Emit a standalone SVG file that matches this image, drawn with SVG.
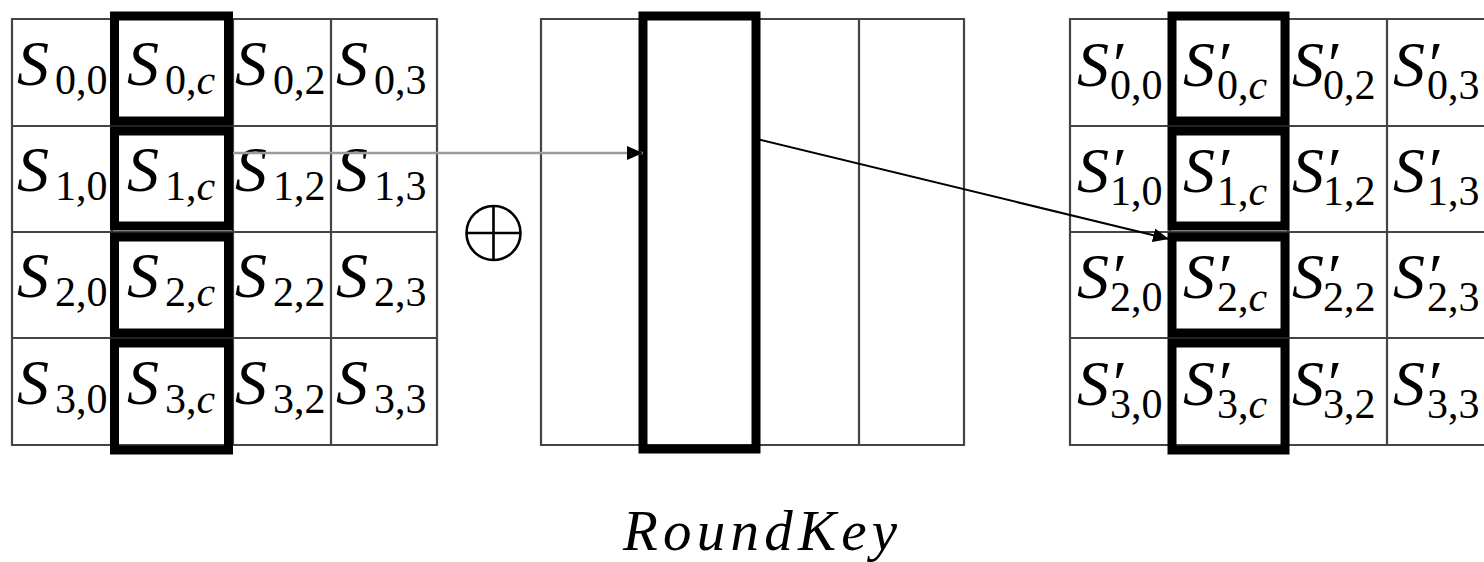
<svg xmlns="http://www.w3.org/2000/svg" width="1484" height="562" viewBox="0 0 1484 562">
<style>
.grid{fill:none;stroke:#444;stroke-width:2.2}
.bold{fill:none;stroke:#000;stroke-width:9}
.m{font-family:"Liberation Serif",serif;font-size:64px;font-style:italic;fill:#000}
.sub{font-size:42px;font-style:normal}
.it{font-style:italic}
.lbl{font-family:"Liberation Serif",serif;font-size:57px;font-style:italic;fill:#000}
.op{fill:none;stroke:#000;stroke-width:2.6}
</style>
<defs>
<marker id="ah" markerUnits="userSpaceOnUse" markerWidth="18" markerHeight="16" refX="16" refY="8" orient="auto">
<path d="M0,1 L16,8 L0,15 Z" fill="#000"/>
</marker>
</defs>
<rect width="1484" height="562" fill="#fff"/>

<g id="state">
<path class="grid" d="M12,19H437V445H12Z M112,19V445 M233,19V445 M331,19V445 M12,126H437 M12,232H437 M12,338H437"/>
<g id="s0"><text class="m" x="17" y="85">S<tspan class="sub" x="55" y="94">0,0</tspan></text>
<text class="m" x="127" y="85">S<tspan class="sub" x="165" y="94">0,<tspan class="it">c</tspan></tspan></text>
<text class="m" x="235" y="85">S<tspan class="sub" x="273" y="94">0,2</tspan></text>
<text class="m" x="336" y="85">S<tspan class="sub" x="374" y="94">0,3</tspan></text></g>
<g id="s1"><text class="m" x="17" y="191">S<tspan class="sub" x="55" y="200">1,0</tspan></text>
<text class="m" x="127" y="191">S<tspan class="sub" x="165" y="200">1,<tspan class="it">c</tspan></tspan></text>
<text class="m" x="235" y="191">S<tspan class="sub" x="273" y="200">1,2</tspan></text>
<text class="m" x="336" y="191">S<tspan class="sub" x="374" y="200">1,3</tspan></text></g>
<g id="s2"><text class="m" x="17" y="297">S<tspan class="sub" x="55" y="306">2,0</tspan></text>
<text class="m" x="127" y="297">S<tspan class="sub" x="165" y="306">2,<tspan class="it">c</tspan></tspan></text>
<text class="m" x="235" y="297">S<tspan class="sub" x="273" y="306">2,2</tspan></text>
<text class="m" x="336" y="297">S<tspan class="sub" x="374" y="306">2,3</tspan></text></g>
<g id="s3"><text class="m" x="17" y="404">S<tspan class="sub" x="55" y="413">3,0</tspan></text>
<text class="m" x="127" y="404">S<tspan class="sub" x="165" y="413">3,<tspan class="it">c</tspan></tspan></text>
<text class="m" x="235" y="404">S<tspan class="sub" x="273" y="413">3,2</tspan></text>
<text class="m" x="336" y="404">S<tspan class="sub" x="374" y="413">3,3</tspan></text></g>
<g id="state-col">
<rect class="bold" x="114.5" y="16" width="114" height="105"/>
<rect class="bold" x="114.5" y="131" width="114" height="95"/>
<rect class="bold" x="114.5" y="237" width="114" height="96"/>
<rect class="bold" x="114.5" y="343" width="114" height="107"/>
</g>
</g>

<g id="xor">
<circle class="op" cx="493.5" cy="233" r="27"/>
<path class="op" d="M493.5,206V260 M466.5,233H520.5"/>
</g>

<g id="roundkey">
<path class="grid" d="M541,19H964V445H541Z M859,19V445"/>
<rect class="bold" x="643" y="16" width="113" height="433"/>
<text class="lbl" x="623" y="550" textLength="274" lengthAdjust="spacing">RoundKey</text>
</g>

<g id="newstate">
<path class="grid" d="M1500,19H1070V445H1500 M1170,19V445 M1288,19V445 M1387,19V445 M1070,126H1500 M1070,232H1500 M1070,338H1500"/>
<g id="t0"><text class="m" x="1077" y="86">S′<tspan class="sub" x="1110" y="99">0,0</tspan></text>
<text class="m" x="1183" y="86">S′<tspan class="sub" x="1217" y="99">0,<tspan class="it">c</tspan></tspan></text>
<text class="m" x="1292" y="86">S′<tspan class="sub" x="1323" y="99">0,2</tspan></text>
<text class="m" x="1393" y="86">S′<tspan class="sub" x="1427" y="99">0,3</tspan></text></g>
<g id="t1"><text class="m" x="1077" y="192">S′<tspan class="sub" x="1110" y="205">1,0</tspan></text>
<text class="m" x="1183" y="192">S′<tspan class="sub" x="1217" y="205">1,<tspan class="it">c</tspan></tspan></text>
<text class="m" x="1292" y="192">S′<tspan class="sub" x="1323" y="205">1,2</tspan></text>
<text class="m" x="1393" y="192">S′<tspan class="sub" x="1427" y="205">1,3</tspan></text></g>
<g id="t2"><text class="m" x="1077" y="298">S′<tspan class="sub" x="1110" y="311">2,0</tspan></text>
<text class="m" x="1183" y="298">S′<tspan class="sub" x="1217" y="311">2,<tspan class="it">c</tspan></tspan></text>
<text class="m" x="1292" y="298">S′<tspan class="sub" x="1323" y="311">2,2</tspan></text>
<text class="m" x="1393" y="298">S′<tspan class="sub" x="1427" y="311">2,3</tspan></text></g>
<g id="t3"><text class="m" x="1077" y="405">S′<tspan class="sub" x="1110" y="418">3,0</tspan></text>
<text class="m" x="1183" y="405">S′<tspan class="sub" x="1217" y="418">3,<tspan class="it">c</tspan></tspan></text>
<text class="m" x="1292" y="405">S′<tspan class="sub" x="1323" y="418">3,2</tspan></text>
<text class="m" x="1393" y="405">S′<tspan class="sub" x="1427" y="418">3,3</tspan></text></g>
<g id="newstate-col">
<rect class="bold" x="1172" y="16" width="113" height="105"/>
<rect class="bold" x="1172" y="131" width="113" height="95"/>
<rect class="bold" x="1172" y="237" width="113" height="96"/>
<rect class="bold" x="1172" y="343" width="113" height="107"/>
</g>
</g>

<g id="connectors">
<line x1="233" y1="153" x2="643" y2="153" stroke="#9a9a9a" stroke-width="2.5" marker-end="url(#ah)"/>
<line x1="753" y1="138" x2="1169" y2="239" stroke="#000" stroke-width="2" marker-end="url(#ah)"/>
</g>
</svg>
